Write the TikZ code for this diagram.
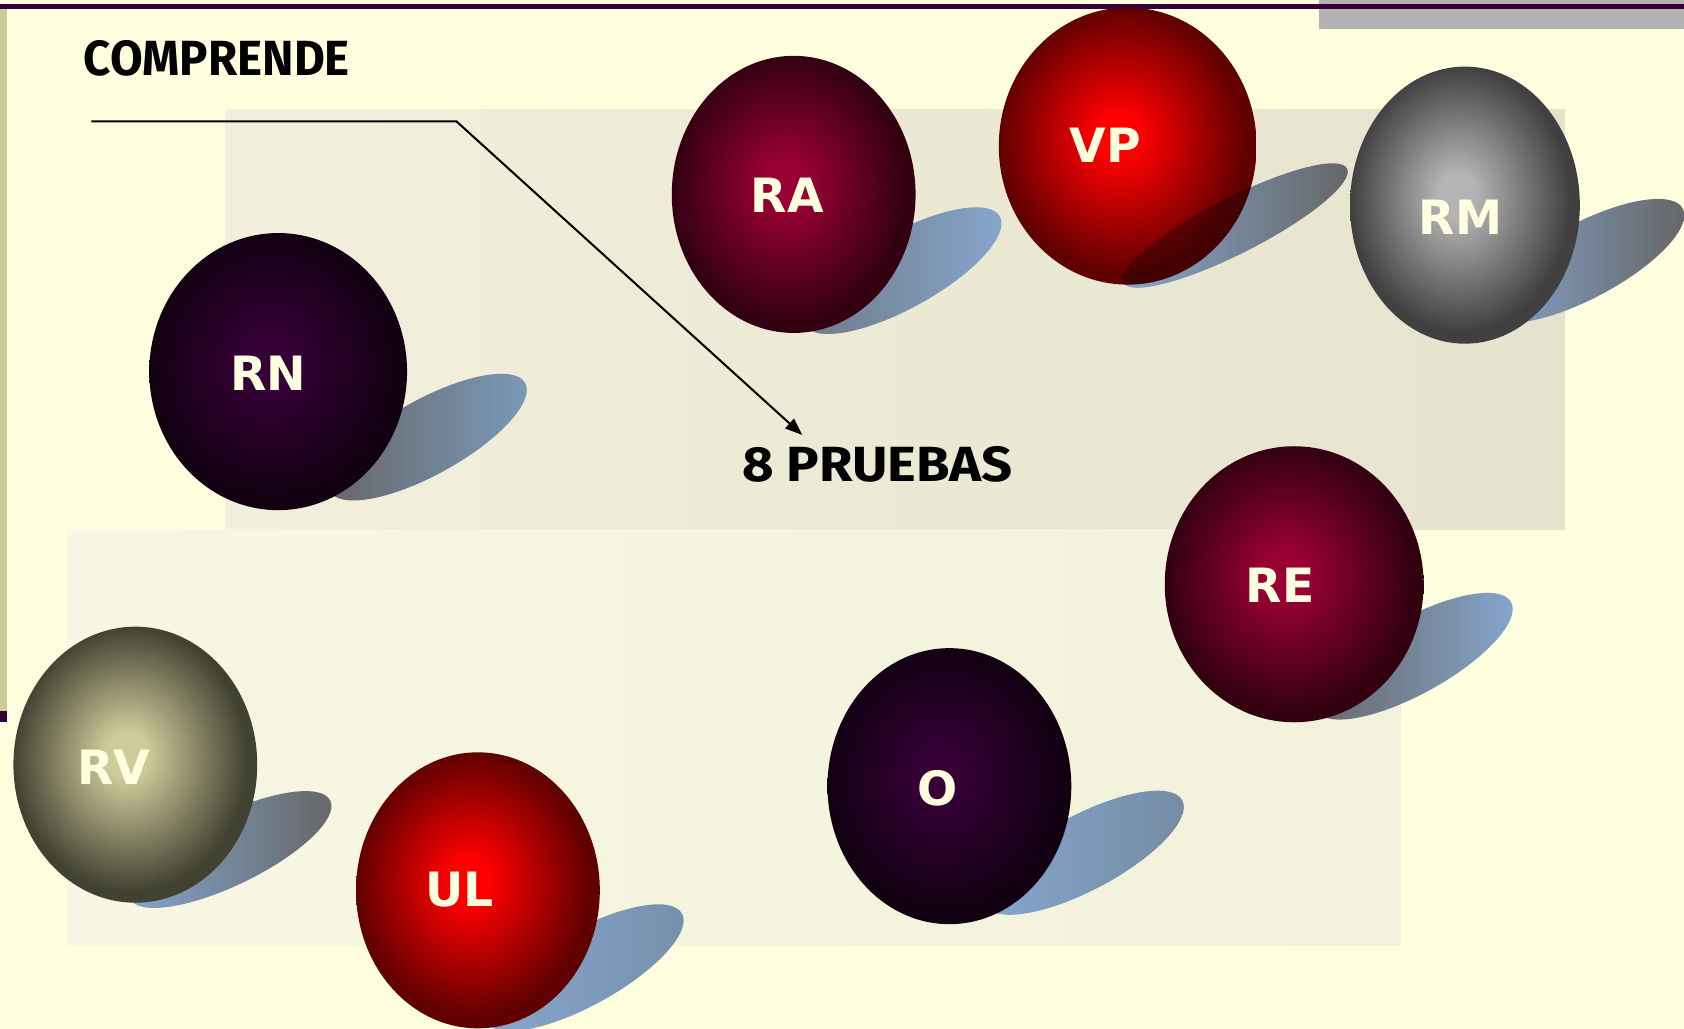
\documentclass[tikz,border=0pt]{standalone}
\usepackage{fontspec}
\setmainfont{DejaVu Sans}
\newfontfamily\comicfont{Fira Sans}
\usetikzlibrary{shapes.geometric,arrows.meta}
\definecolor{bgc}{HTML}{FFFFDF}
\definecolor{barGray}{HTML}{B2B2B2}
\definecolor{topline}{HTML}{33003A}
\definecolor{leftbar}{HTML}{CDCB9A}
\definecolor{upL}{HTML}{F2F0DC}
\definecolor{upR}{HTML}{E5E2CD}
\definecolor{loL}{HTML}{F8F7E3}
\definecolor{loR}{HTML}{F2F1DB}
\definecolor{txtc}{HTML}{FFFFE0}
\definecolor{purIn}{HTML}{360036}
\definecolor{purOut}{HTML}{120012}
\definecolor{crIn}{HTML}{990033}
\definecolor{crOut}{HTML}{330011}
\definecolor{redIn}{HTML}{FF0000}
\definecolor{redOut}{HTML}{600000}
\definecolor{grIn}{HTML}{B4B4B4}
\definecolor{grOut}{HTML}{404040}
\definecolor{olIn}{HTML}{CFCC9C}
\definecolor{olOut}{HTML}{424232}
\definecolor{shBlue}{HTML}{86A7CF}
\definecolor{shBlueB}{HTML}{7B9BBC}
\definecolor{shGray}{HTML}{656565}
\colorlet{sphin}{red}
\colorlet{sphout}{black}
\pgfdeclareradialshading[sphin,sphout]{sphere}{\pgfpoint{-2bp}{2bp}}{color(0bp)=(sphin); color(4bp)=(sphin); color(24bp)=(sphout); color(50bp)=(sphout)}
\tikzset{
  ball/.style n args={4}{shape=ellipse, inner sep=0pt, minimum width=#1, minimum height=#2,
    /utils/exec={\colorlet{sphin}{#3}\colorlet{sphout}{#4}}, shading=sphere},
  lbl/.style={text=txtc, font=\bfseries\fontsize{44}{44}\selectfont, anchor=base, inner sep=0pt},
  comic/.style={font=\comicfont\bfseries\fontsize{46}{46}\selectfont, inner sep=0pt, text=black, transform shape},
  arrowline/.style={line width=1.9pt, -{Triangle[length=16pt,width=12pt]}}
}
% center, left colour, right colour, semi-major, semi-minor, angle
\newcommand\shadowat[6]{%
  \begin{scope}[shift={(#1)},rotate=#6]
    \shade[left color=#2,right color=#3] (0,0) ellipse [x radius=#4, y radius=#5];
  \end{scope}}
\begin{document}
\begin{tikzpicture}[x=1pt,y=-1pt]
\useasboundingbox (0,0) rectangle (1568,958);
\clip (0,0) rectangle (1568,958);
\fill[bgc] (0,0) rectangle (1568,958);
\fill[barGray] (1228,0) rectangle (1568,27);
\fill[topline] (0,3.7) rectangle (1568,8.4);
\fill[leftbar] (0,8.4) rectangle (6.2,662);
\fill[topline] (0,662) rectangle (6.2,672);
\shade[left color=upL, right color=upR] (210,102) rectangle (1457,493);
\shade[left color=loL, right color=loR] (63,493) rectangle (1304,880);
% shadows
\shadowat{398,407}{shGray}{shBlueB}{104}{35}{29}
\shadowat{840,252}{shGray!70!shBlue}{shBlue}{104}{35}{29}
\shadowat{1150,210}{shBlue}{shGray}{117}{26}{27}
\shadowat{1475,243}{shBlue}{shGray}{104}{35}{28}
\shadowat{1316,611}{shGray}{shBlue}{104}{35}{29}
\shadowat{214,791}{shBlue}{shGray}{104}{33}{26}
\shadowat{544,901}{shBlue}{shBlueB!80!shGray}{104}{35}{29}
\shadowat{1009,794}{shBlue}{shBlueB!70!shGray}{104}{35}{28}
% spheres
\node[ball={240pt}{258pt}{purIn}{purOut}] (rn) at (259,346) {};
\node[ball={227pt}{258pt}{crIn}{crOut}] (ra) at (739,181) {};
\node[ball={240pt}{258pt}{redIn}{redOut}] (vp) at (1050,136) {};
\node[ball={214pt}{258pt}{grIn}{grOut}] (rm) at (1364,191) {};
\node[ball={241pt}{257pt}{crIn}{crOut}] (re) at (1205,544) {};
\node[ball={227pt}{257pt}{olIn}{olOut}] (rv) at (126,712) {};
\node[ball={227pt}{257pt}{redIn}{redOut}] (ul) at (445,829) {};
\node[ball={227pt}{257pt}{purIn}{purOut}] (o) at (884,732) {};
% the shadow of VP darkens the lower right of its sphere
\begin{scope}
  \clip (1050,136) ellipse [x radius=120, y radius=129];
  \begin{scope}[shift={(1150,210)},rotate=27]
    \fill[black, opacity=0.3] (0,0) ellipse [x radius=117, y radius=26];
  \end{scope}
\end{scope}
% labels
\node[lbl] (rnl) at (250,364) {RN};
\node[lbl] (ral) at (733,198) {RA};
\node[lbl] (vpl) at (1029,151) {VP};
\node[lbl] (rml) at (1360,218) {RM};
\node[lbl] (rel) at (1192,561) {RE};
\node[lbl] (rvl) at (106,730) {RV};
\node[lbl] (ull) at (428,844) {UL};
\node[lbl] (ol) at (873,750) {O};
% texts
\node[comic, anchor=base west, xscale=0.96] (comp) at (78,70) {COMPRENDE};
\node[comic, anchor=base, xscale=1.1] (pru) at (817,448) {8 PRUEBAS};
% connector
\coordinate (u0) at (85,113);
\coordinate (u1) at (425,113);
\coordinate (tip) at (747,405);
\draw[arrowline] (u0) -- (u1) -- (tip);
\end{tikzpicture}
\end{document}
